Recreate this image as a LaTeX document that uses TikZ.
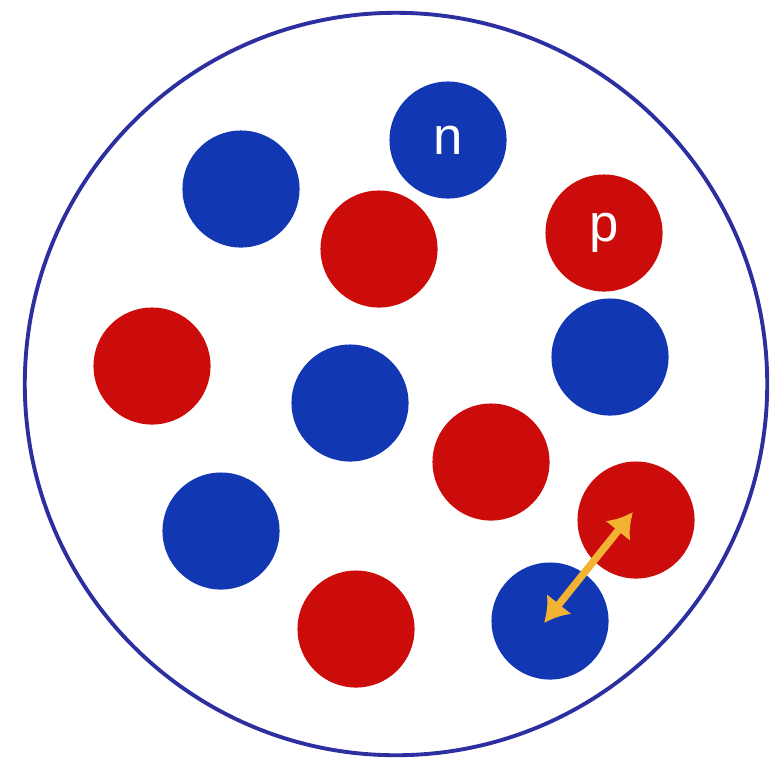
\documentclass[tikz,border=0pt]{standalone}
\usepackage{fontspec}
\usepackage{xcolor}
\usepackage{tikz}
\usetikzlibrary{arrows.meta}
\setsansfont{Liberation Sans}
\definecolor{neutronFill}{HTML}{1237B2}
\definecolor{protonFill}{HTML}{CC0B0B}
\definecolor{nucleusLine}{HTML}{2B2FA0}
\definecolor{swapLine}{HTML}{F2B232}

\begin{document}
\begin{tikzpicture}[
  x=0.01cm, y=-0.01cm,
  font=\sffamily\fontsize{15}{18}\selectfont,
  nucleon/.style={
    circle,
    minimum size=1.17cm,
    inner sep=0pt,
    text=white
  },
  neutron/.style={
    nucleon,
    fill=neutronFill
  },
  proton/.style={
    nucleon,
    fill=protonFill
  },
  swap/.style={
    {Latex[length=2.4mm,width=3.2mm]}-{Latex[length=2.4mm,width=3.2mm]},
    draw=swapLine,
    line width=2.1pt
  }
]
\useasboundingbox (0,0) rectangle (783,769);

% Nucleus boundary
\node[draw=nucleusLine, line width=1.1pt, circle, minimum size=7.42cm, inner sep=0pt] (nucleus) at (396,384) {};

% Neutrons
\node[neutron] (n1) at (241,189) {};
\node[neutron] (n2) at (448,140) {n};
\node[neutron] (n3) at (350,403) {};
\node[neutron] (n4) at (610,357) {};
\node[neutron] (n5) at (221,531) {};
\node[neutron] (n6) at (550,621) {};

% Protons
\node[proton] (p1) at (379,249) {};
\node[proton] (p2) at (604,233) {p};
\node[proton] (p3) at (152,366) {};
\node[proton] (p4) at (491,462) {};
\node[proton] (p5) at (636,520) {};
\node[proton] (p6) at (356,629) {};

% Exchange between a neutron and a proton
\draw[swap] ([shift={(-6,2)}]n6.center) -- ([shift={(-3,-8)}]p5.center);

\end{tikzpicture}
\end{document}
